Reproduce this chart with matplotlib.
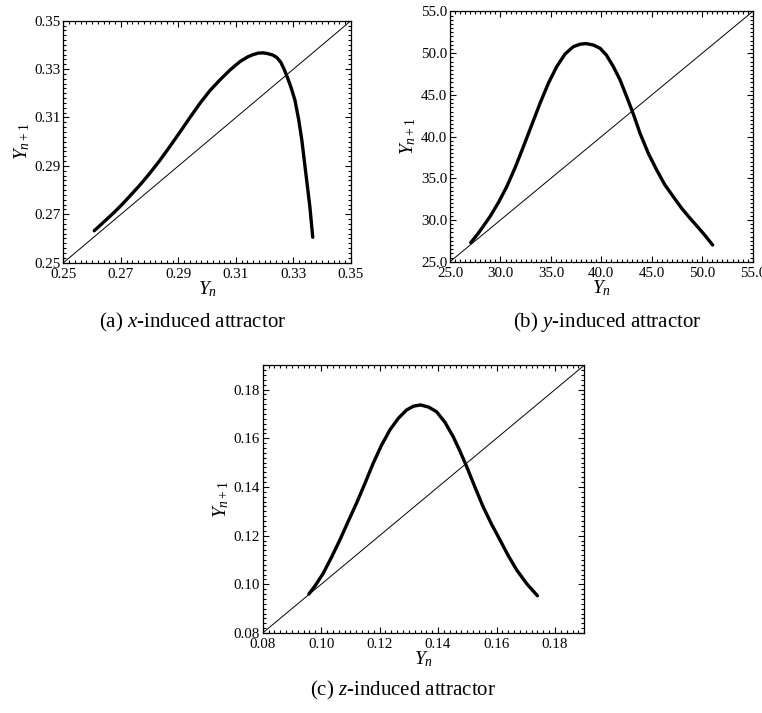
import os
os.environ["MPLBACKEND"] = "Agg"
import matplotlib.pyplot as plt
from matplotlib.ticker import MultipleLocator, FormatStrFormatter

plt.rcParams['font.family'] = ['Liberation Serif', 'DejaVu Serif']
plt.rcParams['mathtext.fontset'] = 'custom'
plt.rcParams['mathtext.rm'] = 'Liberation Serif'
plt.rcParams['mathtext.it'] = 'Liberation Serif:italic'

# return map points: (Y_n, Y_n+1)
xa = [0.2607, 0.2630, 0.2650, 0.2673, 0.2700, 0.2730, 0.2766, 0.2800, 0.2836,
      0.2870, 0.2906, 0.2940, 0.2975, 0.3010, 0.3044, 0.3080, 0.3114, 0.3140,
      0.3160, 0.3178, 0.3195, 0.3210, 0.3228, 0.3242, 0.3256, 0.3268, 0.3280,
      0.3292, 0.3305, 0.3318, 0.3329, 0.3343, 0.3357, 0.3367]
ya = [0.2632, 0.2657, 0.2679, 0.2704, 0.2736, 0.2774, 0.2821, 0.2869, 0.2924,
      0.2980, 0.3041, 0.3100, 0.3159, 0.3212, 0.3255, 0.3297, 0.3331, 0.3350,
      0.3360, 0.3366, 0.3367, 0.3364, 0.3358, 0.3348, 0.3328, 0.3298, 0.3262,
      0.3222, 0.3172, 0.3092, 0.3007, 0.2869, 0.2731, 0.2605]

xb = [27.05, 27.80, 28.96, 29.80, 30.62, 31.45, 32.27, 33.10, 33.92, 34.75,
      35.57, 36.40, 37.22, 37.90, 38.48, 39.20, 39.87, 40.50, 41.19, 41.85,
      42.51, 43.17, 43.83, 44.65, 45.48, 46.30, 47.13, 47.96, 48.79, 49.45,
      50.10, 51.03]
yb = [27.28, 28.40, 30.40, 32.10, 33.99, 36.27, 38.79, 41.40, 43.99, 46.40,
      48.38, 49.90, 50.78, 51.08, 51.15, 50.98, 50.59, 49.77, 48.38, 46.80,
      44.78, 42.70, 40.40, 38.00, 36.00, 34.20, 32.79, 31.40, 30.20, 29.30,
      28.40, 27.00]

xc = [0.0958, 0.0980, 0.1007, 0.1035, 0.1064, 0.1092, 0.1121, 0.1150, 0.1178,
      0.1206, 0.1235, 0.1264, 0.1292, 0.1316, 0.1340, 0.1368, 0.1395, 0.1424,
      0.1452, 0.1475, 0.1498, 0.1526, 0.1554, 0.1583, 0.1612, 0.1640, 0.1669,
      0.1705, 0.1740]
yc = [0.0960, 0.0995, 0.1045, 0.1110, 0.1182, 0.1257, 0.1333, 0.1415, 0.1497,
      0.1570, 0.1634, 0.1682, 0.1716, 0.1732, 0.1737, 0.1728, 0.1709, 0.1665,
      0.1606, 0.1547, 0.1483, 0.1400, 0.1319, 0.1247, 0.1182, 0.1118, 0.1059,
      0.1000, 0.0953]

lims_a = [0.25, 0.35]
lims_b = [25.0, 55.0]
lims_c = [0.08, 0.19]
ticks_a = [0.25, 0.27, 0.29, 0.31, 0.33, 0.35]
ticks_b = [25.0, 30.0, 35.0, 40.0, 45.0, 50.0, 55.0]
ticks_c = [0.08, 0.10, 0.12, 0.14, 0.16, 0.18]

captions = ['(a) $x$-induced attractor', '(b) $y$-induced attractor',
            '(c) $z$-induced attractor']

fig = plt.figure(figsize=(7.62, 7.13), dpi=100)

ax1 = fig.add_axes([0.0833, 0.6316, 0.3773, 0.3394])
ax2 = fig.add_axes([0.5906, 0.6330, 0.3972, 0.3509])
ax3 = fig.add_axes([0.3447, 0.1122, 0.4220, 0.3755])

panels = [
    (ax1, xa, ya, lims_a, ticks_a, 0.002, '%.2f'),
    (ax2, xb, yb, lims_b, ticks_b, 0.5, '%.1f'),
    (ax3, xc, yc, lims_c, ticks_c, 0.002, '%.2f'),
]

for ax, x, y, lims, ticks, minor, fmt in panels:
    ax.plot(lims, lims, color='black', linewidth=0.7)
    ax.plot(x, y, color='black', linewidth=2.4, solid_capstyle='round',
            solid_joinstyle='round')
    ax.set_xlim(lims)
    ax.set_ylim(lims)
    ax.set_xticks(ticks)
    ax.set_yticks(ticks)
    ax.xaxis.set_minor_locator(MultipleLocator(minor))
    ax.yaxis.set_minor_locator(MultipleLocator(minor))
    ax.xaxis.set_major_formatter(FormatStrFormatter(fmt))
    ax.yaxis.set_major_formatter(FormatStrFormatter(fmt))
    ax.tick_params(which='both', direction='in', top=True, right=True,
                   labelsize=10.8, width=0.8)
    ax.tick_params(axis='x', which='both', pad=3.5)
    ax.tick_params(axis='y', which='both', pad=2)
    ax.tick_params(which='major', length=4)
    ax.tick_params(which='minor', length=2)
    for s in ax.spines.values():
        s.set_linewidth(0.9)
    ax.set_xlabel('$Y_n$', fontsize=14, labelpad=-1)
    ax.set_ylabel('$Y_{\\mathit{n+1}}$', fontsize=14, labelpad=2)

# captions under each panel
fig.text(193 / 762, 1 - 322 / 713, captions[0], fontsize=15, ha='center', va='center')
fig.text(607 / 762, 1 - 322 / 713, captions[1], fontsize=15, ha='center', va='center')
fig.text(403 / 762, 1 - 690 / 713, captions[2], fontsize=15, ha='center', va='center')

plt.savefig("out.png", dpi=100)
